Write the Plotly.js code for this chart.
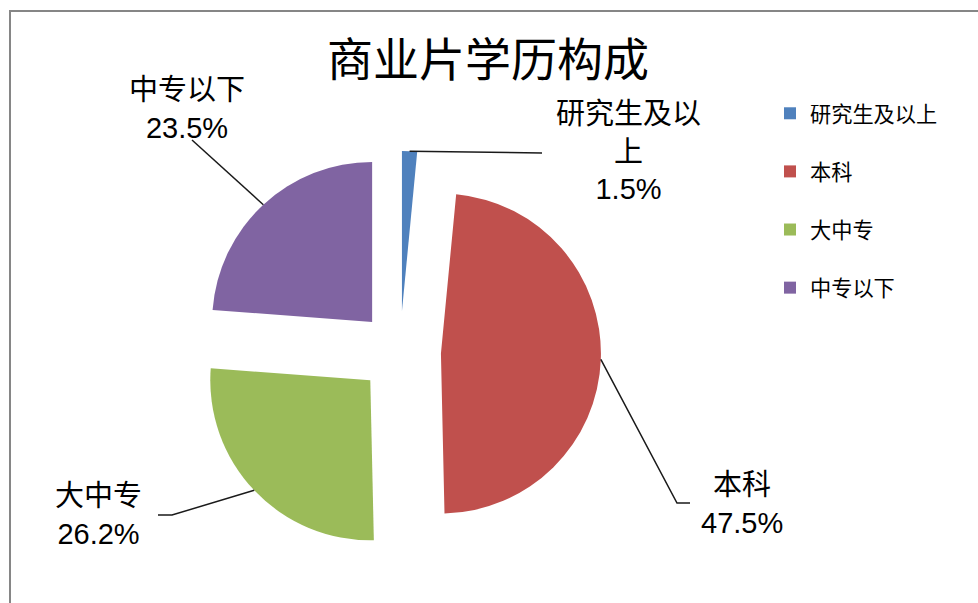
<!DOCTYPE html>
<html><head><meta charset="utf-8">
<script src="https://cdn.plot.ly/plotly-3.0.1.min.js"></script>
<style>html,body{margin:0;padding:0;background:#fff}</style>
</head><body><div id="chart" style="width:978px;height:603px"></div>
<script>
// ---- data ----
const chartTitle = '商业片学历构成';
const categories = ['研究生及以上', '本科', '大中专', '中专以下'];
const percentValues = [1.5, 47.5, 26.2, 23.5];
const sliceColors = ['#4F81BD', '#C0504D', '#9BBB59', '#8064A2'];

// ---- layout helpers ----
const W = 978, H = 603;
const FONT = '"Liberation Sans", Arial, "Noto Sans CJK SC", sans-serif';
const px = x => x / W, py = y => 1 - y / H;

// pie geometry in pixels (un-pulled centre, radius, pull)
const CX = 400, CY = 352, R = 160, PULL = 0.256;
const half = R * (1 + PULL);

// label placement (layout only)
const labelPos = [[628, 151], [742, 504], [98, 515], [187, 109]];
const labelWrap = [5, 5, 5, 5];
const leaderEnds = [
  [[542, 153]],
  [[677, 503], [690, 503]],
  [[172, 515], [158, 515]],
  [[192, 140]]
];

function wrap(s, n) {
  const out = [];
  for (let i = 0; i < s.length; i += n) out.push(s.slice(i, i + n));
  return out.join('<br>');
}

const total = percentValues.reduce((a, b) => a + b, 0);
let cum = 0;
const shapes = [{
  type: 'rect', xref: 'paper', yref: 'paper',
  x0: px(10), y0: -0.1, x1: 1.1, y1: py(11),
  line: { color: '#868686', width: 2 }, fillcolor: 'rgba(0,0,0,0)', layer: 'below'
}];
const annotations = [];
percentValues.forEach((v, i) => {
  const mid = (cum + v / 2) / total * 2 * Math.PI;
  cum += v;
  const sx = CX + half * Math.sin(mid), sy = CY - half * Math.cos(mid);
  let d = 'M' + px(sx) + ',' + py(sy);
  leaderEnds[i].forEach(p => { d += ' L' + px(p[0]) + ',' + py(p[1]); });
  shapes.push({ type: 'path', xref: 'paper', yref: 'paper', path: d,
    line: { color: '#1a1a1a', width: 1.5 } });
  annotations.push({
    xref: 'paper', yref: 'paper', x: px(labelPos[i][0]), y: py(labelPos[i][1]),
    xanchor: 'center', yanchor: 'middle', showarrow: false, align: 'center',
    text: wrap(categories[i], labelWrap[i]) + '<br>' + v.toFixed(1) + '%',
    font: { family: FONT, size: 29, color: '#000' }
  });
});

const trace = {
  type: 'pie',
  labels: categories.map(c => c + '<br> '),
  values: percentValues,
  marker: { colors: sliceColors, line: { width: 0 } },
  sort: false,
  direction: 'clockwise',
  rotation: 0,
  pull: PULL,
  textinfo: 'none',
  hoverinfo: 'none',
  domain: { x: [px(CX - half), px(CX + half)], y: [py(CY + half), py(CY - half)] },
  automargin: false
};

const layout = {
  width: W, height: H,
  margin: { l: 0, r: 0, t: 0, b: 0, pad: 0 },
  paper_bgcolor: '#fff',
  title: { text: chartTitle, x: 0.499, xanchor: 'center', xref: 'paper',
           y: 1 - 60 / H, yref: 'container', yanchor: 'middle',
           font: { family: FONT, size: 46, color: '#000' } },
  showlegend: true,
  legend: { x: px(770), xanchor: 'left', y: py(93), yanchor: 'top',
            font: { family: FONT, size: 21.2, color: '#000' }, valign: 'top',
            bgcolor: 'rgba(0,0,0,0)' },
  shapes: shapes,
  annotations: annotations
};

Plotly.newPlot('chart', [trace], layout, { displayModeBar: false, staticPlot: true });
</script></body></html>
